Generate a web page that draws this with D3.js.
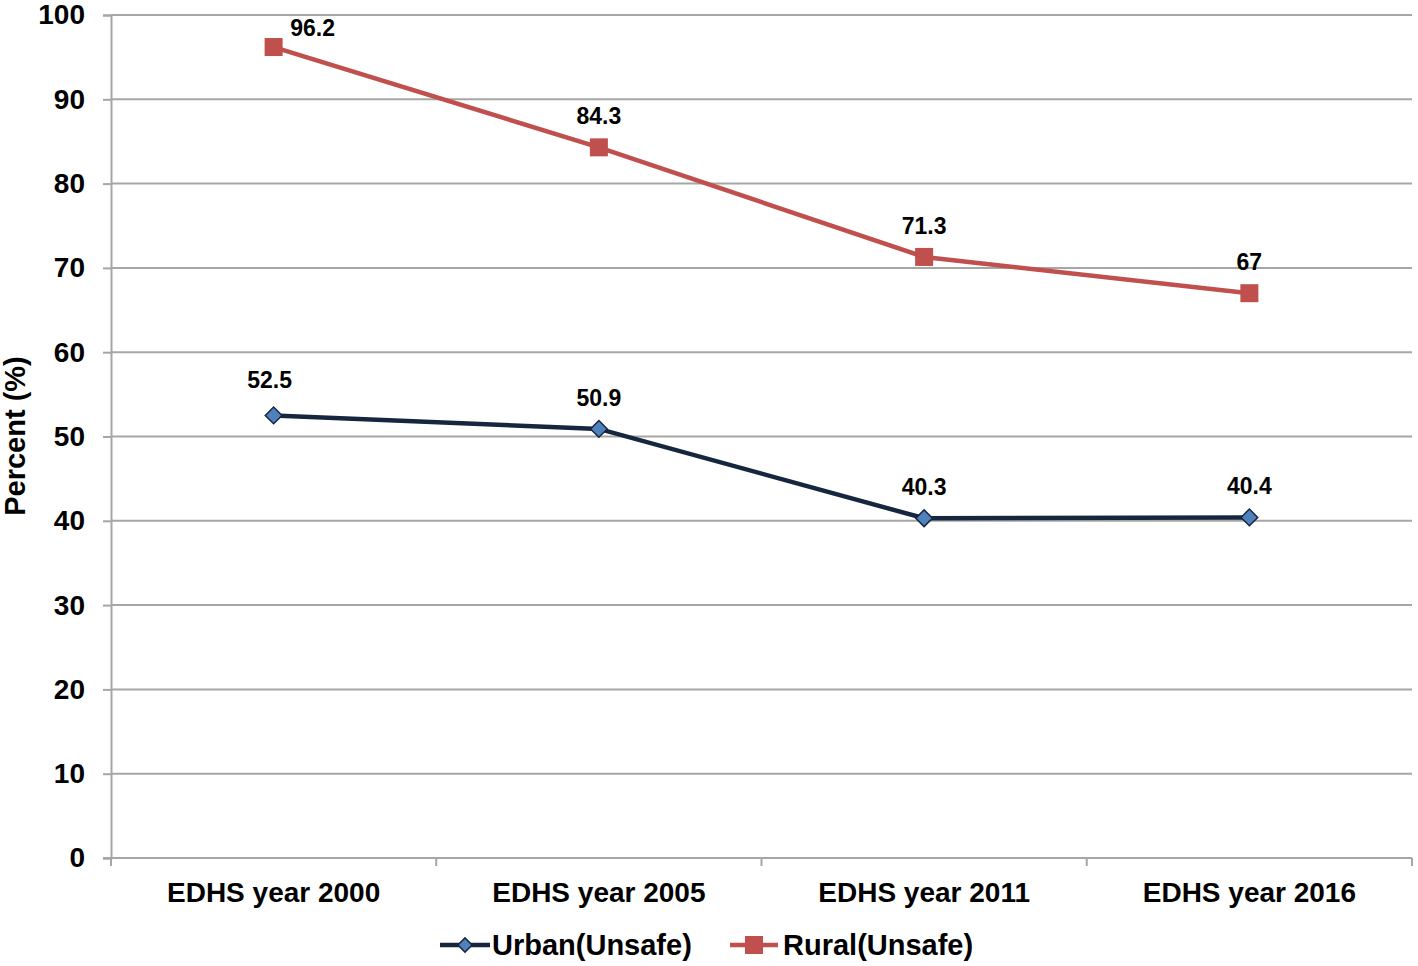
<!DOCTYPE html>
<html><head><meta charset="utf-8">
<script src="https://cdn.jsdelivr.net/npm/d3@7"></script>
<style>body{margin:0;background:#fff}svg{display:block;font-family:"Liberation Sans",Arial,sans-serif}</style>
</head><body><svg id="c" width="1418" height="966"></svg>
<script>
const categories = ["EDHS year 2000","EDHS year 2005","EDHS year 2011","EDHS year 2016"];
const urban = [52.5, 50.9, 40.3, 40.4];
const rural = [96.2, 84.3, 71.3, 67];
const yTicks = [0,10,20,30,40,50,60,70,80,90,100];
const seriesNames = ["Urban(Unsafe)","Rural(Unsafe)"];

const svg = d3.select("#c");
const L=111, R=1412, T=15, B=858;
const x = d3.scaleBand().domain(categories).range([L,R]);
const y = d3.scaleLinear().domain([0,100]).range([B,T]);
const grid="#a6a6a6";

// gridlines
svg.append("g").selectAll("line").data(yTicks.filter(d=>d>0)).join("line")
  .attr("x1",L).attr("x2",R).attr("y1",d=>y(d)).attr("y2",d=>y(d))
  .attr("stroke",grid).attr("stroke-width",2);

// y axis
const ya = svg.append("g").attr("transform",`translate(${L},0)`)
  .call(d3.axisLeft(y).tickValues(yTicks).tickSize(8).tickPadding(18));
ya.select(".domain").attr("stroke",grid).attr("stroke-width",2);
ya.selectAll(".tick line").attr("stroke",grid).attr("stroke-width",2);
ya.selectAll("text").attr("font-size",28).attr("font-weight","bold").attr("fill","#000")
  .attr("font-family","Liberation Sans, Arial, sans-serif");

// x axis
svg.append("line").attr("x1",L-8).attr("x2",R).attr("y1",B).attr("y2",B).attr("stroke",grid).attr("stroke-width",2);
const bounds = categories.map(c=>x(c)).concat([x(categories[categories.length-1])+x.bandwidth()]);
svg.append("g").selectAll("line").data(bounds).join("line")
  .attr("x1",d=>d).attr("x2",d=>d).attr("y1",B).attr("y2",B+8).attr("stroke",grid).attr("stroke-width",2);
svg.append("g").selectAll("text").data(categories).join("text")
  .attr("x",d=>x(d)+x.bandwidth()/2).attr("y",902).attr("text-anchor","middle")
  .attr("font-size",28).attr("font-weight","bold").text(d=>d);

// y title
svg.append("text").attr("transform","translate(15,436) rotate(-90)").attr("text-anchor","middle")
  .attr("dominant-baseline","central")
  .attr("font-size",29).attr("font-weight","bold").text("Percent (%)");

const cx = d=>x(d)+x.bandwidth()/2;
const line = d3.line().x(d=>cx(d[0])).y(d=>y(d[1]));

const uData = categories.map((c,i)=>[c,urban[i]]);
const rData = categories.map((c,i)=>[c,rural[i]]);
svg.append("path").datum(uData).attr("d",line).attr("fill","none").attr("stroke","#17263f").attr("stroke-width",4.5);
svg.append("path").datum(rData).attr("d",line).attr("fill","none").attr("stroke","#c0504d").attr("stroke-width",4.5);

svg.append("g").selectAll("path").data(uData).join("path")
  .attr("d",d3.symbol().type(d3.symbolSquare).size(140))
  .attr("transform",d=>`translate(${cx(d[0])},${y(d[1])}) rotate(45)`)
  .attr("fill","#4f81bd").attr("stroke","#17263f").attr("stroke-width",1.5);
svg.append("g").selectAll("rect").data(rData).join("rect")
  .attr("x",d=>cx(d[0])-9).attr("y",d=>y(d[1])-9).attr("width",18).attr("height",18)
  .attr("fill","#c0504d");

// labels
svg.append("g").selectAll("text").data(uData).join("text")
  .attr("x",(d,i)=>cx(d[0])+(i===0?-4:0)).attr("y",(d,i)=>y(d[1])-(i===0?27:23))
  .attr("text-anchor","middle").attr("font-size",23).attr("font-weight","bold").text(d=>d[1]);
svg.append("g").selectAll("text").data(rData).join("text")
  .attr("x",(d,i)=>cx(d[0])+(i===0?39:0)).attr("y",(d,i)=>y(d[1])-(i===0?11:23))
  .attr("text-anchor","middle").attr("font-size",23).attr("font-weight","bold").text(d=>d[1]);

// legend
const lg = svg.append("g");
lg.append("line").attr("x1",440).attr("x2",490).attr("y1",945).attr("y2",945).attr("stroke","#17263f").attr("stroke-width",4.5);
lg.append("path").attr("d",d3.symbol().type(d3.symbolSquare).size(100)).attr("transform","translate(465,945) rotate(45)")
  .attr("fill","#4f81bd").attr("stroke","#17263f").attr("stroke-width",1.5);
lg.append("text").attr("x",492).attr("y",955).attr("font-size",29).attr("font-weight","bold").text(seriesNames[0]);
lg.append("line").attr("x1",730).attr("x2",778).attr("y1",945).attr("y2",945).attr("stroke","#c0504d").attr("stroke-width",4.5);
lg.append("rect").attr("x",745).attr("y",936).attr("width",18).attr("height",18).attr("fill","#c0504d");
lg.append("text").attr("x",783).attr("y",955).attr("font-size",29).attr("font-weight","bold").text(seriesNames[1]);
</script></body></html>
